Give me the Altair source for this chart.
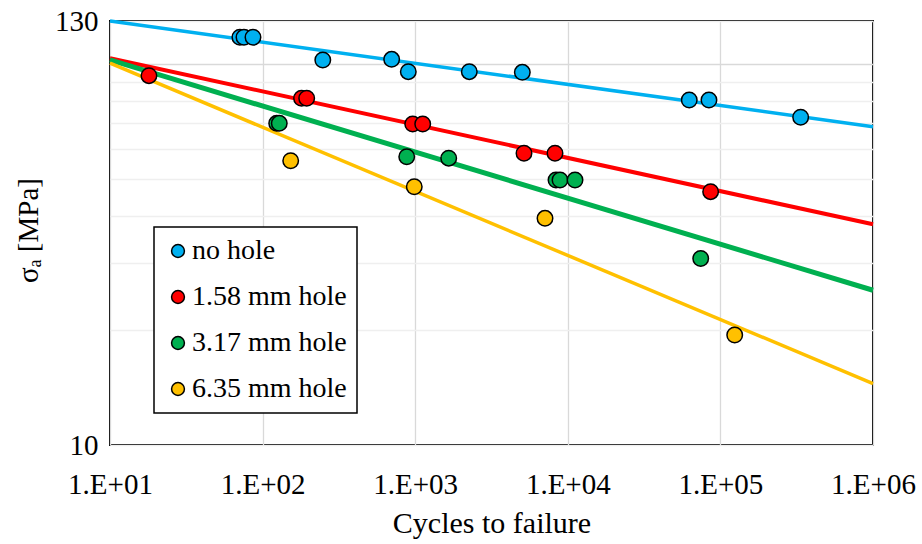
import altair as alt
import pandas as pd

FONT = "Liberation Serif"

series = ["no hole", "1.58 mm hole", "3.17 mm hole", "6.35 mm hole"]
colors = ["#00B0F0", "#FF0000", "#00B050", "#FFC000"]

# experimental points (cycles to failure, stress amplitude MPa)
nohole_n = [71, 75.5, 86.5, 248, 701, 901, 2262, 5035, 62500, 84150, 335700]
nohole_s = [117.8, 117.8, 117.8, 102.7, 103.1, 95.7, 95.7, 95.3, 80.6, 80.6, 72.6]
h158_n = [18.0, 180, 194.5, 963, 1120, 5164, 8245, 86300]
h158_s = [93.4, 81.5, 81.5, 69.7, 69.7, 58.4, 58.4, 46.3]
h317_n = [123.7, 128.6, 880, 1658, 8370, 8890, 11150, 74300]
h317_s = [70.0, 70.0, 57.2, 56.7, 49.7, 49.7, 49.7, 30.9]
h635_n = [152.8, 986, 7090, 124100]
h635_s = [55.8, 47.7, 39.4, 19.45]

# trend lines (end points)
fit_n = [10, 1e6]
fit_nohole = [130, 68.6]
fit_158 = [103.8, 38.0]
fit_317 = [102.7, 25.5]
fit_635 = [100.7, 14.5]

x_ticks = [10, 100, 1000, 10000, 100000, 1000000]
y_ticks = [10, 20, 30, 40, 50, 60, 70, 80, 90, 100, 130]

rows = []
for name, ns, ss in zip(series, [nohole_n, h158_n, h317_n, h635_n],
                        [nohole_s, h158_s, h317_s, h635_s]):
    for n, s in zip(ns, ss):
        rows.append({"series": name, "n": n, "s": s})
points = pd.DataFrame(rows)

x_enc = alt.X(
    "n:Q",
    scale=alt.Scale(type="log", domain=[10, 1e6], nice=False),
    axis=alt.Axis(
        values=x_ticks,
        labelExpr="'1.E+0' + round(log(datum.value) / LN10)",
        title="Cycles to failure",
        grid=True, gridColor="#d9d9d9", gridWidth=1.3,
        ticks=False, domain=False, labelFlush=False, labelOverlap=False,
        labelFont=FONT, labelFontSize=29, labelColor="black",
        labelBaseline="alphabetic", labelPadding=48,
        titleFont=FONT, titleFontSize=30, titleColor="black",
        titleFontWeight="normal", titleBaseline="alphabetic", titleY=87,
    ),
)
y_enc = alt.Y(
    "s:Q",
    scale=alt.Scale(type="log", domain=[10, 130], nice=False),
    axis=alt.Axis(
        values=y_ticks,
        labelExpr="datum.value == 10 || datum.value == 130 ? format(datum.value, 'd') : ''",
        title="σₐ [MPa]",
        grid=True,
        gridColor={"condition": {"test": "datum.value == 100", "value": "#d9d9d9"},
                   "value": "#efefef"},
        gridWidth=1.3,
        ticks=False, domain=False, labelOverlap=False, labelFlush=False,
        labelFont=FONT, labelFontSize=29, labelColor="black", labelPadding=12,
        titleFont=FONT, titleFontSize=29, titleColor="black",
        titleFontWeight="normal", titleX=-82, titleY=209,
        titleAlign="center", titleBaseline="middle",
    ),
)

def fit_layer(vals, color, width):
    df = pd.DataFrame({"n": fit_n, "s": vals})
    return alt.Chart(df).mark_line(color=color, strokeWidth=width).encode(x=x_enc, y=y_enc)

lines = [
    fit_layer(fit_nohole, colors[0], 3.5),
    fit_layer(fit_158, colors[1], 4),
    fit_layer(fit_317, colors[2], 5),
    fit_layer(fit_635, colors[3], 3.5),
]

pts = alt.Chart(points).mark_circle(
    size=240, stroke="black", strokeWidth=1.5, opacity=1
).encode(
    x=x_enc,
    y=y_enc,
    color=alt.Color(
        "series:N",
        scale=alt.Scale(domain=series, range=colors),
        legend=alt.Legend(
            title=None, orient="none", legendX=44, legendY=206,
            direction="vertical", fillColor="white", strokeColor="black",
            padding=10, rowPadding=18, labelFontSize=28, labelFont=FONT,
            labelColor="black", symbolType="circle", symbolSize=165,
            symbolStrokeColor="black", symbolStrokeWidth=1.5,
            symbolOpacity=1, labelOffset=0, labelLimit=0,
            cornerRadius=0,
        ),
    ),
)

chart = alt.layer(*lines, pts).properties(
    width=763, height=424,
    padding={"left": 110, "top": 21, "right": 49, "bottom": 99},
    autosize=alt.AutoSizeParams(type="none"),
    background="white",
).configure(
    font=FONT
).configure_axis(
    labelFont=FONT, titleFont=FONT
).configure_view(
    stroke="black", strokeWidth=2
).configure_legend(
    strokeWidth=1.5, labelFont=FONT
)

chart.save("out.html", embed_options={"renderer": "svg", "actions": False})
